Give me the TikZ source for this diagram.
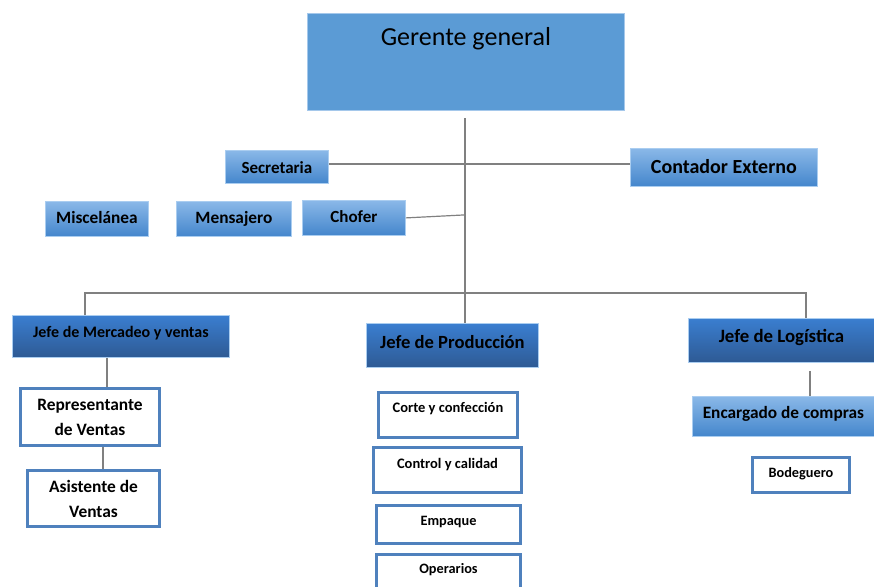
\documentclass[tikz,border=0pt]{standalone}
\usepackage{fontspec}
\setmainfont{Carlito}
\usetikzlibrary{positioning}
\definecolor{gerfill}{RGB}{91,155,213}
\definecolor{geredge}{RGB}{165,200,235}
\definecolor{lighttop}{RGB}{138,184,232}
\definecolor{lightbot}{RGB}{68,134,204}
\definecolor{lightedge}{RGB}{170,205,240}
\definecolor{darktop}{RGB}{58,126,208}
\definecolor{darkbot}{RGB}{46,90,148}
\definecolor{boxedge}{RGB}{79,129,189}
\definecolor{linegray}{RGB}{128,128,128}

\begin{document}
\begin{tikzpicture}[x=1pt, y=-1pt,
    every node/.style={anchor=north west, inner sep=0pt, align=center, text=black},
    light/.style={draw=lightedge, line width=0.8pt, top color=lighttop, bottom color=lightbot},
    dark/.style={draw=lightedge, line width=0.8pt, top color=darktop, bottom color=darkbot},
    plain/.style={draw=boxedge, line width=3pt, fill=white},
    link/.style={draw=linegray, line width=1.2pt}]
    \useasboundingbox (0,0) rectangle (874,586);
    \clip (0,0) rectangle (874,586);

    \node (gerente) [fill=gerfill, draw=geredge, line width=0.8pt, minimum width=317pt, text height=32pt, text depth=65pt, font=\fontsize{26}{31}\selectfont] at (307,13) {Gerente general};

    \node (secretaria) [light, minimum width=103pt, text height=23pt, text depth=10pt, font=\bfseries\fontsize{17}{20}\selectfont] at (225,150) {Secretaria};
    \node (contador) [light, minimum width=187pt, text height=25pt, text depth=13pt, font=\bfseries\fontsize{20}{24}\selectfont] at (630,148) {Contador Externo};
    \node (miscelanea) [light, minimum width=103pt, text height=22pt, text depth=13pt, font=\bfseries\fontsize{17.3}{20}\selectfont] at (45,201) {Miscelánea};
    \node (mensajero) [light, minimum width=115pt, text height=22pt, text depth=13pt, font=\bfseries\fontsize{17.3}{20}\selectfont] at (176,201) {Mensajero};
    \node (chofer) [light, minimum width=103pt, text height=22pt, text depth=13pt, font=\bfseries\fontsize{17}{20}\selectfont] at (302,200) {Chofer};

    \node (mercadeo) [dark, minimum width=217pt, text height=22pt, text depth=20pt, font=\bfseries\fontsize{16}{19}\selectfont] at (12,315) {Jefe de Mercadeo y ventas};
    \node (produccion) [dark, minimum width=172pt, text height=25pt, text depth=19pt, font=\bfseries\fontsize{18.6}{22}\selectfont] at (366,323) {Jefe de Producción};
    \node (logistica) [dark, minimum width=186pt, text height=24pt, text depth=20pt, font=\bfseries\fontsize{18.8}{22}\selectfont] at (688,318) {Jefe de Logística};

    \node (representante) [plain, minimum width=139pt, minimum height=57pt, font=\bfseries\fontsize{17.4}{25}\selectfont] at (19,387) {Representante\\de Ventas};
    \node (asistente) [plain, minimum width=132pt, minimum height=56pt, font=\bfseries\fontsize{17.4}{25}\selectfont] at (26,469) {Asistente de\\Ventas};

    \node (corte) [plain, minimum width=139pt, text height=20pt, text depth=25pt, font=\bfseries\fontsize{14.5}{17}\selectfont] at (377,391) {Corte y confección};
    \node (control) [plain, minimum width=148pt, text height=21pt, text depth=24pt, font=\bfseries\fontsize{14.5}{17}\selectfont] at (372,446) {Control y calidad};
    \node (empaque) [plain, minimum width=144pt, text height=20pt, text depth=18pt, font=\bfseries\fontsize{14.3}{17}\selectfont] at (375,504) {Empaque};
    \node (operarios) [plain, minimum width=144pt, text height=19pt, text depth=25pt, font=\bfseries\fontsize{14.3}{17}\selectfont] at (375,553) {Operarios};

    \node (compras) [light, minimum width=182pt, text height=22pt, text depth=18pt, font=\bfseries\fontsize{17.3}{20}\selectfont] at (692,396) {Encargado de compras};
    \node (bodeguero) [plain, minimum width=97pt, text height=20pt, text depth=15pt, font=\bfseries\fontsize{14.3}{17}\selectfont] at (751,456) {Bodeguero};

    \coordinate (trunk) at (465,118);
    \coordinate (mbar) at (85,293);
    \coordinate (lbar) at (806,293);

    \draw[link] (trunk) -- (trunk |- produccion.north);
    \draw[link] ([yshift=3pt]secretaria.east) -- ([yshift=3pt]secretaria.east -| contador.west);
    \draw[link] (chofer.east) -- ([yshift=3pt]chofer.east -| trunk);
    \draw[link] (mercadeo.north -| mbar) -- (mbar) -- (lbar) -- (lbar |- logistica.north);
    \draw[link] (mercadeo.south -| 107,0) -- (representante.north -| 107,0);
    \draw[link] (representante.south -| 103,0) -- (asistente.north -| 103,0);
    \draw[link] ([yshift=-8pt]logistica.south -| 810,0) -- (compras.north -| 810,0);
\end{tikzpicture}
\end{document}
